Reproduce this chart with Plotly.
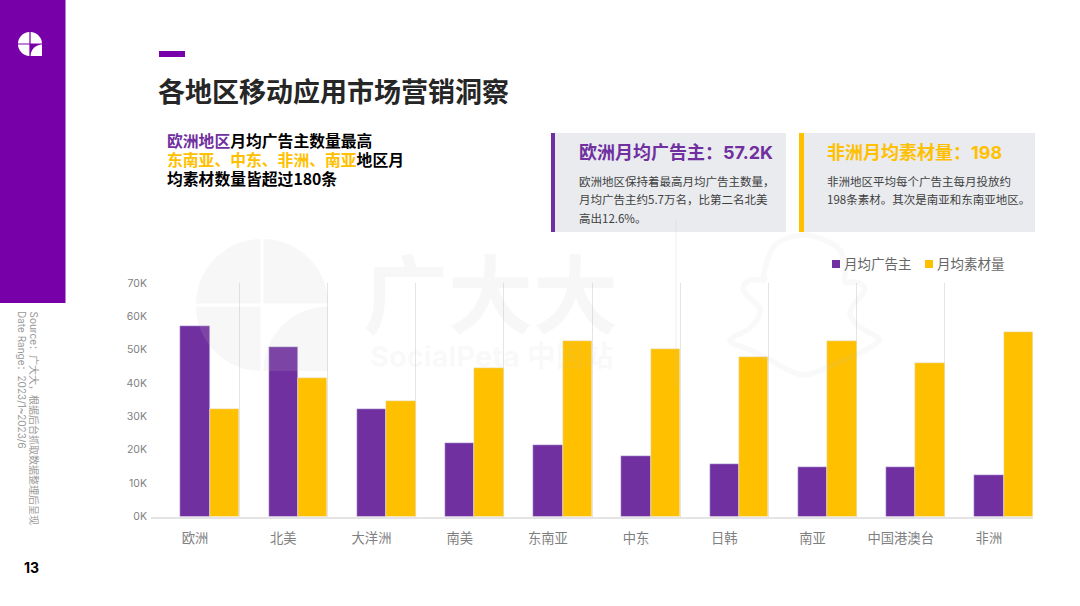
import plotly.graph_objects as go

# chart data
regions = ["欧洲", "北美", "大洋洲", "南美", "东南亚", "中东", "日韩", "南亚", "中国港澳台", "非洲"]
advertisers = [57200, 50800, 32200, 22000, 21500, 18000, 15600, 14800, 14800, 12500]
creatives = [32200, 41500, 34600, 44500, 52500, 50300, 47800, 52500, 46000, 55300]
tick_vals = [0, 10000, 20000, 30000, 40000, 50000, 60000, 70000]
tick_text = ["0K", "10K", "20K", "30K", "40K", "50K", "60K", "70K"]

W, H = 1080, 606
PURPLE = "#7030a0"
YELLOW = "#ffc000"
SIDEBAR = "#7800a8"
CJK = "Noto Sans CJK SC"
MIXED = "Inter, Noto Sans CJK SC"
WATERMARK = "rgba(200,200,200,0.14)"
WATERMARK_SOFT = "rgba(200,200,200,0.10)"

# snapchat ghost outline in the background, page pixels
ghost = [(805, 235), (775, 245), (764, 273), (764, 280), (750, 280), (743, 290), (757, 305), (760, 313),
         (750, 328), (732, 338), (732, 343), (750, 350), (770, 360), (803, 375), (837, 363), (860, 353),
         (878, 342), (877, 337), (857, 325), (850, 313), (855, 303), (865, 290), (857, 282), (845, 282),
         (845, 267), (837, 247)]


def px(x):
    return x / W


def py(y):
    return 1 - y / H


def box(x0, y0, x1, y1, color, layer="below"):
    return dict(type="rect", xref="paper", yref="paper", x0=px(x0), x1=px(x1), y0=py(y0), y1=py(y1),
                fillcolor=color, line_width=0, layer=layer)


def path(d, color, layer="above"):
    return dict(type="path", xref="paper", yref="paper", path=d, fillcolor=color, line_width=0, layer=layer)


def pie_quarter(cx, cy, r, x_sign, y_sign, color, gap=1.5, layer="above"):
    # one quadrant of the logo circle
    x0, y0 = cx + x_sign * gap, cy + y_sign * gap
    x1, y1 = cx + x_sign * r, cy + y_sign * r
    k = 0.552 * r
    d = (f"M{px(x0)},{py(y0)} L{px(x1)},{py(y0)} "
         f"C{px(x1)},{py(cy + y_sign * k)} {px(cx + x_sign * k)},{py(y1)} {px(x0)},{py(y1)} Z")
    return path(d, color, layer)


def logo(cx, cy, r, color, gap, layer="above"):
    shapes = [pie_quarter(cx, cy, r, sx, sy, color, gap, layer) for sx, sy in [(-1, -1), (1, -1), (-1, 1)]]
    # lower right piece is a quarter circle around the outer corner
    x0, y0 = cx + gap, cy + gap
    x1, y1 = cx + r, cy + r
    k = 0.448 * (r - gap)
    d = (f"M{px(x1)},{py(y0)} C{px(x1 - (r - gap) + k)},{py(y0)} {px(x0)},{py(y0 + k)} {px(x0)},{py(y1)} "
         f"L{px(x1)},{py(y1)} Z")
    shapes.append(path(d, color, layer))
    return shapes


def ghost_path(points):
    n = len(points)
    d = f"M{px(points[0][0])},{py(points[0][1])}"
    for i in range(n):
        p0, p1, p2, p3 = points[i - 1], points[i], points[(i + 1) % n], points[(i + 2) % n]
        c1 = (p1[0] + (p2[0] - p0[0]) / 6, p1[1] + (p2[1] - p0[1]) / 6)
        c2 = (p2[0] - (p3[0] - p1[0]) / 6, p2[1] - (p3[1] - p1[1]) / 6)
        d += f" C{px(c1[0])},{py(c1[1])} {px(c2[0])},{py(c2[1])} {px(p2[0])},{py(p2[1])}"
    return d + " Z"


def label(x, y, text, size, color, bold=False, family=CJK, xanchor="left", **kw):
    return dict(xref="paper", yref="paper", x=px(x), y=py(y), text=text, showarrow=False,
                xanchor=xanchor, yanchor=kw.pop("yanchor", "middle"),
                font=dict(size=size, color=color, family=family, weight=700 if bold else 400),
                borderpad=0, borderwidth=0, **kw)


def span(text, color):
    return f'<span style="color:{color}">{text}</span>'


fig = go.Figure()
# purple bar sits on the category centre, the yellow one right next to it
fig.add_bar(x=regions, y=advertisers, name="月均广告主", marker_color=PURPLE, width=1 / 3, offset=-1 / 6)
fig.add_bar(x=regions, y=creatives, name="月均素材量", marker_color=YELLOW, width=1 / 3, offset=1 / 6)

shapes = [
    box(0, 0, 65.5, 303, SIDEBAR),
    box(159, 51, 185, 57, SIDEBAR),
    box(555, 133, 786, 232, "#e9ebef"),
    box(551, 133, 555, 232, PURPLE),
    box(804, 133, 1035, 232, "#e9ebef"),
    box(799, 133, 804, 232, YELLOW),
    box(832, 260, 840, 268, PURPLE),
    box(925, 260, 933, 268, YELLOW),
    box(675, 220, 677, 388, WATERMARK, layer="above"),
    dict(type="path", xref="paper", yref="paper", path=ghost_path(ghost), fillcolor="rgba(0,0,0,0)",
         line=dict(color=WATERMARK_SOFT, width=5.5), layer="above"),
]
shapes += logo(30, 44, 12, "white", 0.6)
shapes += logo(262, 305, 66, WATERMARK, 1.5)

annotations = [
    label(158, 91, "各地区移动应用市场营销洞察", 27, "#262626", bold=True),
    label(167, 140, span("欧洲地区", PURPLE) + "月均广告主数量最高", 15.8, "#000000", bold=True),
    label(167, 159, span("东南亚、中东、非洲、南亚", YELLOW) + "地区月", 15.8, "#000000", bold=True),
    label(167, 178, "均素材数量皆超过180条", 15.8, "#000000", bold=True),
    label(579, 152.5, "欧洲月均广告主\uff1a57.2K", 18, PURPLE, bold=True, family=MIXED),
    label(579, 181, "欧洲地区保持着最高月均广告主数量\uff0c", 11.5, "#404040"),
    label(579, 199, "月均广告主约5.7万名\uff0c比第二名北美", 11.5, "#404040"),
    label(579, 218, "高出12.6%。", 11.5, "#404040"),
    label(827, 152.5, "非洲月均素材量\uff1a198", 18, YELLOW, bold=True, family=MIXED),
    label(827, 181, "非洲地区平均每个广告主每月投放约", 11.5, "#404040"),
    label(827, 199, "198条素材。其次是南亚和东南亚地区。", 11.5, "#404040"),
    label(844, 263, "月均广告主", 13.5, "#666666"),
    label(937, 263, "月均素材量", 13.5, "#666666"),
    label(34, 311, "Source\uff1a广大大\uff0c根据后台抓取数据整理后呈现", 10, "#999999", family=MIXED,
          xanchor="center", yanchor="top", textangle=90),
    label(22, 311, "Date Range\uff1a2023/1~2023/6", 10, "#999999", family=MIXED,
          xanchor="center", yanchor="top", textangle=90),
    label(31, 567, "13", 14, "#000000", bold=True, family="Inter", xanchor="center"),
    # watermark text
    label(490, 289, "广大大", 85, WATERMARK, bold=True, xanchor="center"),
    label(492, 356, "SocialPeta 中国站", 29, WATERMARK_SOFT, bold=True, family=MIXED, xanchor="center"),
]

fig.update_layout(
    width=W,
    height=H,
    autosize=False,
    margin=dict(l=0, r=0, t=0, b=0, autoexpand=False),
    paper_bgcolor="white",
    plot_bgcolor="rgba(0,0,0,0)",
    barmode="overlay",
    showlegend=False,
    bargap=0,
    shapes=shapes,
    annotations=annotations,
    xaxis=dict(
        domain=[px(151), px(1033)],
        type="category",
        tickson="boundaries",
        showgrid=True,
        gridcolor="#e4e4e4",
        gridwidth=1.2,
        ticks="",
        showline=True,
        linecolor="#e4e4e4",
        linewidth=2,
        tickfont=dict(family=CJK, size=13.3, color="#7f7f7f"),
        ticklabelstandoff=9,
    ),
    yaxis=dict(
        domain=[py(516.5), py(283)],
        range=[0, 70000],
        tickmode="array",
        tickvals=tick_vals,
        ticktext=tick_text,
        showgrid=False,
        zeroline=False,
        ticks="",
        tickfont=dict(family="Inter", size=10.5, color="#7f7f7f"),
        ticklabelstandoff=3,
    ),
)

fig.write_html("out.html", config={"displayModeBar": False}, post_script="document.body.style.margin='0';")
